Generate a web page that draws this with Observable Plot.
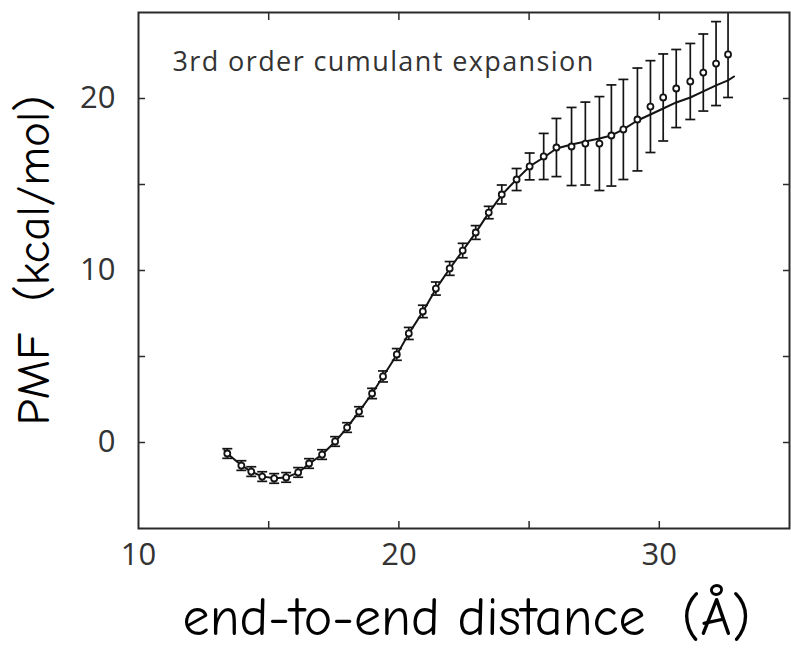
<!DOCTYPE html>
<html>
<head>
<meta charset="utf-8">
<script src="https://cdn.jsdelivr.net/npm/d3@7"></script>
<script src="https://cdn.jsdelivr.net/npm/@observablehq/plot@0.6"></script>
<style>
  html, body { margin: 0; padding: 0; background: #fff; }
</style>
</head>
<body>
<div id="chart"></div>
<script>
// distance (Å) of each sampled point
const distance = [13.41, 13.95, 14.33, 14.75, 15.21, 15.67, 16.13, 16.55, 17.05, 17.55,
  18.01, 18.47, 18.97, 19.39, 19.92, 20.38, 20.92, 21.42, 21.95, 22.45,
  22.95, 23.45, 23.95, 24.52, 25.02, 25.56, 26.05, 26.63, 27.16, 27.70,
  28.16, 28.62, 29.16, 29.66, 30.15, 30.65, 31.19, 31.69, 32.18, 32.64];
// PMF (kcal/mol) at each point
const pmf = [-0.64, -1.34, -1.69, -1.98, -2.09, -2.03, -1.74, -1.22, -0.70, 0.06,
  0.87, 1.80, 2.85, 3.84, 5.12, 6.34, 7.62, 8.95, 10.12, 11.16,
  12.21, 13.37, 14.42, 15.29, 16.05, 16.63, 17.15, 17.21, 17.38, 17.38,
  17.85, 18.20, 18.78, 19.53, 20.06, 20.58, 20.99, 21.51, 22.03, 22.56];
// error bar half-heights (kcal/mol)
const pmfErr = [0.28, 0.28, 0.28, 0.28, 0.28, 0.28, 0.28, 0.28, 0.28, 0.28,
  0.28, 0.28, 0.30, 0.32, 0.34, 0.35, 0.36, 0.38, 0.40, 0.42,
  0.40, 0.36, 0.55, 0.64, 0.78, 1.34, 1.69, 2.27, 2.41, 2.73,
  2.94, 2.91, 2.99, 2.67, 2.53, 2.27, 2.21, 2.24, 2.44, 2.50];
// 3rd order cumulant expansion curve
const curveX = [13.30, 13.41, 13.95, 14.33, 14.75, 15.21, 15.67, 16.13, 16.55, 17.05,
  17.55, 18.01, 18.47, 18.97, 19.39, 19.92, 20.38, 20.92, 21.42, 21.95,
  22.45, 22.95, 23.45, 23.95, 24.52, 25.02, 25.56, 26.05, 26.63, 27.16,
  27.70, 28.16, 28.62, 29.16, 29.66, 30.15, 30.65, 31.19, 31.69, 32.18,
  32.64, 32.87];
const curveY = [-0.45, -0.64, -1.32, -1.70, -1.97, -2.08, -2.03, -1.76, -1.24, -0.70,
  0.04, 0.86, 1.80, 2.85, 3.84, 5.10, 6.33, 7.60, 8.93, 10.10,
  11.15, 12.20, 13.35, 14.40, 15.30, 16.05, 16.57, 17.09, 17.33, 17.50,
  17.67, 17.85, 18.20, 18.72, 19.07, 19.42, 19.77, 20.06, 20.41, 20.76,
  21.05, 21.28];

const xTicks = [15, 20, 25, 30];
const xTickLabels = [10, 20, 30];
const yTicks = [0, 5, 10, 15, 20];
const yTickLabels = [0, 10, 20];
const xDomain = [10, 35];
const yDomain = [-5, 25];

const title = "3rd order cumulant expansion";
const xTitle = "end-to-end distance\u00a0 (Å)";
const yTitle = "PMF\u00a0 (kcal/mol)";

const points = distance.map((x, i) => ({x, y: pmf[i], lo: pmf[i] - pmfErr[i], hi: pmf[i] + pmfErr[i]}));
const curve = curveX.map((x, i) => ({x, y: curveY[i]}));

const capSymbol = {
  draw(context, size) {
    const w = Math.sqrt(size / Math.PI);
    context.moveTo(-w, 0);
    context.lineTo(w, 0);
  }
};

const ink = "#141414";
const axisInk = "#2a2a2a";
const labelFont = "'Open Sans', 'Noto Sans', sans-serif";
const titleFont = "'Comic Sans MS', 'Comic Neue', 'DejaVu Sans', sans-serif";

const chart = Plot.plot({
  width: 791,
  height: 649,
  marginLeft: 138,
  marginRight: 2,
  marginTop: 12,
  marginBottom: 121,
  style: {background: "#fff", fontFamily: labelFont, overflow: "visible"},
  x: {domain: xDomain},
  y: {domain: yDomain},
  marks: [
    // inward ticks on all four sides
    Plot.axisX(xTicks, {anchor: "bottom", tickSize: -7, fill: "none", stroke: axisInk, strokeWidth: 1.5, label: null}),
    Plot.axisX(xTicks, {anchor: "top", tickSize: -7, fill: "none", stroke: axisInk, strokeWidth: 1.5, label: null}),
    Plot.axisY(yTicks, {anchor: "left", tickSize: -7, fill: "none", stroke: axisInk, strokeWidth: 1.5, label: null}),
    Plot.axisY(yTicks, {anchor: "right", tickSize: -7, fill: "none", stroke: axisInk, strokeWidth: 1.5, label: null}),
    // tick labels
    Plot.axisX(xTickLabels, {anchor: "bottom", tickSize: 0, tickPadding: 14, fontSize: 31, fill: "#333", label: null}),
    Plot.axisY(yTickLabels, {anchor: "left", tickSize: 0, tickPadding: 23, fontSize: 31, fill: "#333", label: null}),
    // error bars
    Plot.ruleX(points, {x: "x", y1: "lo", y2: "hi", stroke: ink, strokeWidth: 1.7, clip: true}),
    Plot.dot(points, {x: "x", y: "lo", symbol: capSymbol, r: 5, stroke: ink, strokeWidth: 1.7, clip: true}),
    Plot.dot(points, {x: "x", y: "hi", symbol: capSymbol, r: 5, stroke: ink, strokeWidth: 1.7, clip: true}),
    // fitted curve
    Plot.line(curve, {x: "x", y: "y", stroke: ink, strokeWidth: 2}),
    // data points
    Plot.dot(points, {x: "x", y: "y", r: 3, fill: "#fff", stroke: ink, strokeWidth: 1.8}),
    // frame
    Plot.frame({stroke: axisInk, strokeWidth: 2}),
    // annotation
    Plot.text([title], {frameAnchor: "top-left", dx: 34, dy: 50, textAnchor: "start", lineAnchor: "middle", fontSize: 27, fill: "#333", fontFamily: labelFont}),
    // axis titles
    Plot.text([xTitle], {frameAnchor: "bottom", dx: 2.5, dy: 89, textAnchor: "middle", lineAnchor: "middle", fontSize: 54, fill: "#000", fontFamily: titleFont}),
    Plot.text([yTitle], {frameAnchor: "left", dx: -105, dy: -10, textAnchor: "middle", lineAnchor: "middle", rotate: -90, fontSize: 47, fill: "#000", fontFamily: titleFont})
  ]
});

d3.select(chart).selectAll("text")
  .filter(function () { return this.textContent === title; })
  .style("letter-spacing", "1.4px");

document.getElementById("chart").appendChild(chart);
</script>
</body>
</html>
